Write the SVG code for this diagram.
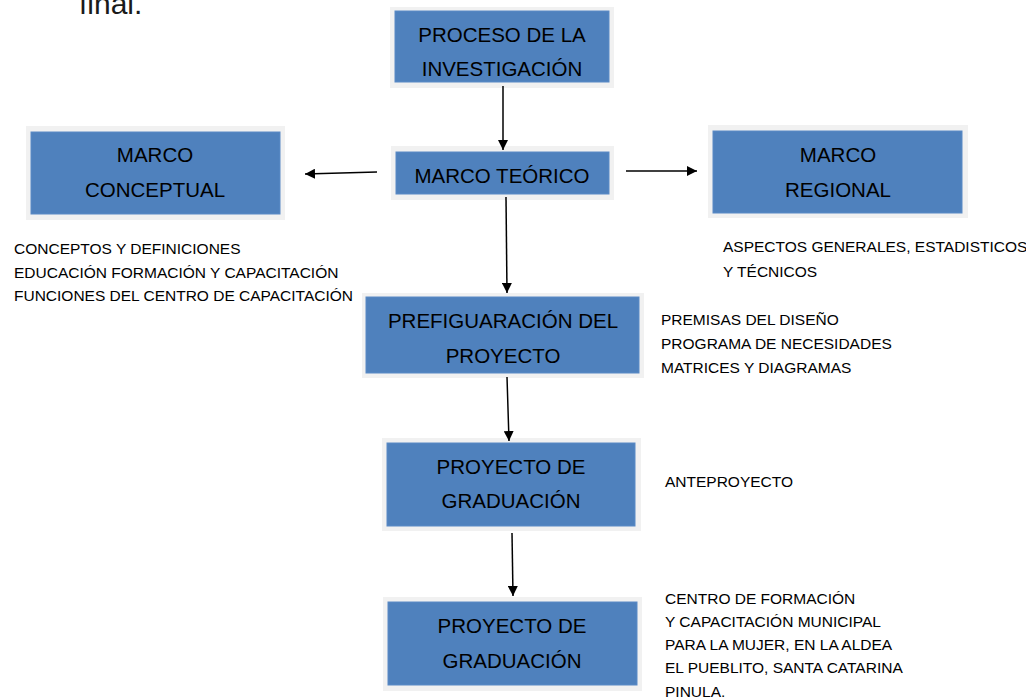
<svg xmlns="http://www.w3.org/2000/svg" width="1026" height="698" viewBox="0 0 1026 698">
<style>
.frame{fill:#F1F1F1;}
.box{fill:#4F81BD;stroke:#5A8AC6;stroke-width:1;}
.bt{font-family:"Liberation Sans",Arial,sans-serif;font-size:20.5px;fill:#000;text-anchor:middle;}
.st{font-family:"Liberation Sans",Arial,sans-serif;font-size:15.5px;fill:#000;}
.conn line{stroke:#000;stroke-width:1.5;marker-end:url(#ah);}
</style>
<defs>
<marker id="ah" markerUnits="userSpaceOnUse" markerWidth="10" markerHeight="10" refX="10" refY="5" orient="auto">
<path d="M0,0 L10,5 L0,10 z" fill="#000"/>
</marker>
</defs>
<rect width="1026" height="698" fill="#fff"/>
<text x="79" y="14" style="font-family:'Liberation Sans',Arial,sans-serif;font-size:30px;fill:#1a1a1a;">final.</text>

<g id="proceso">
<rect class="frame" x="390" y="7" width="224" height="81"/>
<rect class="box" x="395" y="11" width="214" height="71"/>
<text class="bt" x="502" y="42">PROCESO DE LA</text>
<text class="bt" x="502" y="76">INVESTIGACIÓN</text>
</g>

<g id="teorico">
<rect class="frame" x="391" y="146" width="223" height="54"/>
<rect class="box" x="396" y="152" width="213" height="42"/>
<text class="bt" x="502" y="183">MARCO TEÓRICO</text>
</g>

<g id="conceptual">
<rect class="frame" x="26" y="126" width="259" height="94"/>
<rect class="box" x="31" y="132" width="249" height="82"/>
<text class="bt" x="155" y="162">MARCO</text>
<text class="bt" x="155" y="197">CONCEPTUAL</text>
</g>

<g id="regional">
<rect class="frame" x="708" y="125" width="260" height="93"/>
<rect class="box" x="713" y="131" width="249" height="82"/>
<text class="bt" x="838" y="162">MARCO</text>
<text class="bt" x="838" y="197">REGIONAL</text>
</g>

<g id="prefiguracion">
<rect class="frame" x="362" y="293" width="282" height="85"/>
<rect class="box" x="366" y="297" width="273" height="76"/>
<text class="bt" x="503" y="328">PREFIGUARACIÓN DEL</text>
<text class="bt" x="503" y="363">PROYECTO</text>
</g>

<g id="proyecto1">
<rect class="frame" x="382" y="438" width="259" height="93"/>
<rect class="box" x="387" y="443" width="248" height="83"/>
<text class="bt" x="511" y="474">PROYECTO DE</text>
<text class="bt" x="511" y="508">GRADUACIÓN</text>
</g>

<g id="proyecto2">
<rect class="frame" x="383" y="597" width="259" height="94"/>
<rect class="box" x="388" y="602" width="249" height="83"/>
<text class="bt" x="512" y="633">PROYECTO DE</text>
<text class="bt" x="512" y="668">GRADUACIÓN</text>
</g>

<g id="notes">
<text class="st" x="14" y="254">CONCEPTOS Y DEFINICIONES</text>
<text class="st" x="14" y="277.5">EDUCACIÓN FORMACIÓN Y CAPACITACIÓN</text>
<text class="st" x="14" y="301">FUNCIONES DEL CENTRO DE CAPACITACIÓN</text>
<text class="st" x="723" y="252">ASPECTOS GENERALES, ESTADISTICOS</text>
<text class="st" x="723" y="277">Y TÉCNICOS</text>
<text class="st" x="661" y="325">PREMISAS DEL DISEÑO</text>
<text class="st" x="661" y="349">PROGRAMA DE NECESIDADES</text>
<text class="st" x="661" y="373">MATRICES Y DIAGRAMAS</text>
<text class="st" x="665" y="487">ANTEPROYECTO</text>
<text class="st" x="665" y="604">CENTRO DE FORMACIÓN</text>
<text class="st" x="665" y="627">Y CAPACITACIÓN MUNICIPAL</text>
<text class="st" x="665" y="650">PARA LA MUJER, EN LA ALDEA</text>
<text class="st" x="665" y="673">EL PUEBLITO, SANTA CATARINA</text>
<text class="st" x="665" y="697">PINULA.</text>
</g>

<g id="connectors" class="conn">
<line x1="503" y1="86" x2="503" y2="150"/>
<line x1="377" y1="172" x2="305" y2="174"/>
<line x1="626" y1="171" x2="697" y2="171"/>
<line x1="506" y1="197" x2="507" y2="293"/>
<line x1="507" y1="377" x2="509" y2="441"/>
<line x1="512" y1="533" x2="513" y2="596"/>
</g>
</svg>
